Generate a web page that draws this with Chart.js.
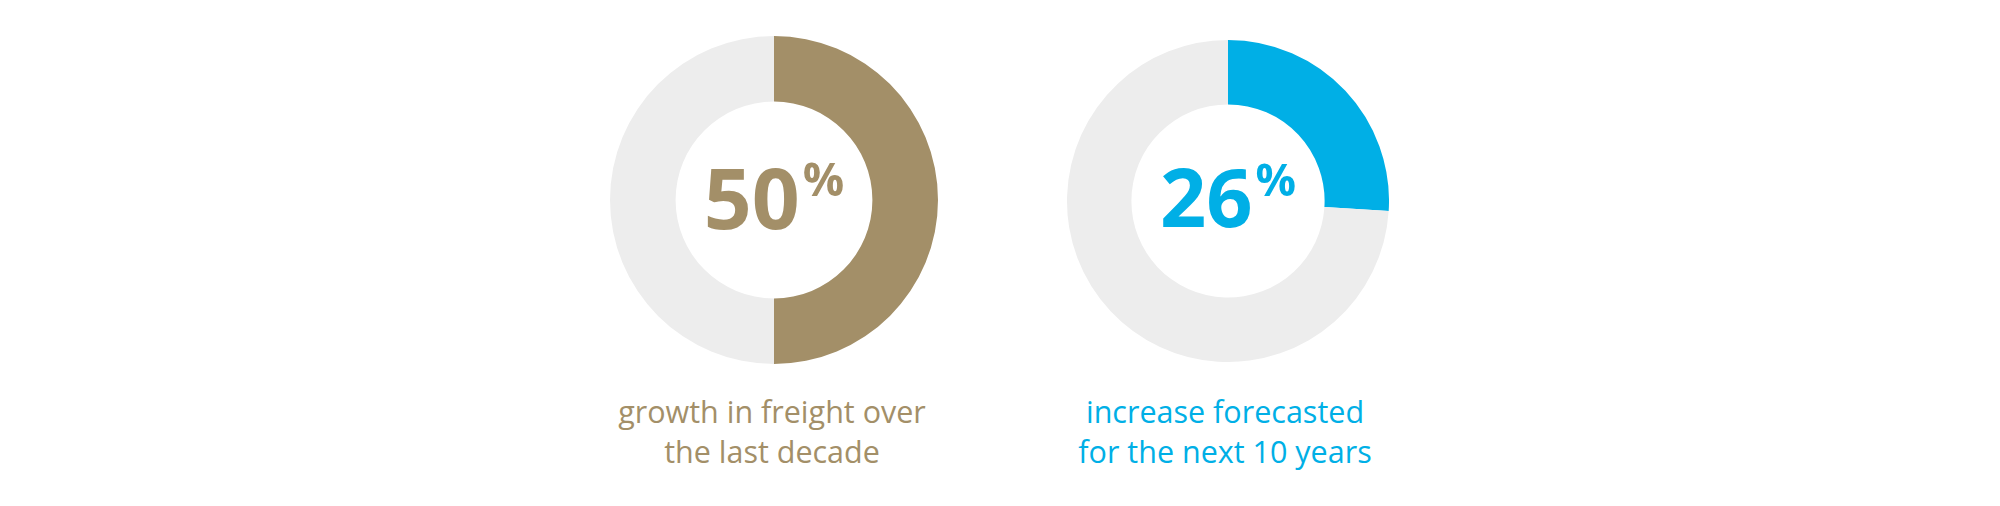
<!DOCTYPE html>
<html>
<head>
<meta charset="utf-8">
<script src="https://cdn.jsdelivr.net/npm/chart.js@4"></script>
<style>
  html, body { margin: 0; padding: 0; background: #ffffff; }
  body { width: 2000px; height: 506px; position: relative; overflow: hidden; }
  .wrap { position: absolute; }
  .num { position: absolute; text-align: center; font-family: "Open Sans", "Noto Sans", sans-serif; font-weight: 700; white-space: nowrap; }
  .num .pct { position: relative; font-weight: 700; margin-left: 3px; }
  .cap { position: absolute; text-align: center; font-family: "Open Sans", "Noto Sans", sans-serif; font-weight: 400; white-space: nowrap; }
</style>
</head>
<body>
<script>
// ---- data ----
const categories = ['growth in freight over the last decade', 'increase forecasted for the next 10 years'];
const captionLines = [
  ['growth in freight over', 'the last decade'],
  ['increase forecasted', 'for the next 10 years']
];
const shareValues = [50, 26];
const remainderValues = [50, 74];
const valueSuffix = '%';

// ---- styling / layout ----
const accentColors = ['#A38F68', '#00AFE6'];
const trackColor = '#EDEDED';
const layout = [
  { cx: 774, cy: 200, r: 164, numSize: 84, numBaseline: 230, pctSize: 46, pctRaise: 33, capX: 772 },
  { cx: 1228, cy: 201, r: 161, numSize: 81, numBaseline: 227, pctSize: 45, pctRaise: 31, capX: 1225 }
];
const capSize = 30.5, capLine = 40, capBaseline = 423;

shareValues.forEach((v, i) => {
  const L = layout[i];
  const size = L.r * 2;
  const wrap = document.createElement('div');
  wrap.className = 'wrap';
  wrap.style.left = (L.cx - L.r) + 'px';
  wrap.style.top = (L.cy - L.r) + 'px';
  wrap.style.width = size + 'px';
  wrap.style.height = size + 'px';
  const cv = document.createElement('canvas');
  cv.width = size; cv.height = size;
  cv.style.width = size + 'px'; cv.style.height = size + 'px';
  wrap.appendChild(cv);
  document.body.appendChild(wrap);

  new Chart(cv, {
    type: 'doughnut',
    data: {
      labels: [categories[i], 'remainder'],
      datasets: [{
        data: [shareValues[i], remainderValues[i]],
        backgroundColor: [accentColors[i], trackColor],
        borderWidth: 0,
        hoverOffset: 0,
        offset: 0
      }]
    },
    options: {
      responsive: false,
      maintainAspectRatio: false,
      animation: false,
      events: [],
      cutout: '60%',
      rotation: 0,
      layout: { padding: 0 },
      plugins: { legend: { display: false }, tooltip: { enabled: false } }
    }
  });

  // center number
  const num = document.createElement('div');
  num.className = 'num';
  num.style.color = accentColors[i];
  num.style.fontSize = L.numSize + 'px';
  num.style.lineHeight = L.numSize + 'px';
  num.style.left = (L.cx - 200) + 'px';
  num.style.width = '400px';
  num.style.top = (L.numBaseline - 0.888 * L.numSize) + 'px';
  const main = document.createElement('span');
  main.textContent = String(shareValues[i]);
  const pct = document.createElement('span');
  pct.className = 'pct';
  pct.textContent = valueSuffix;
  pct.style.fontSize = L.pctSize + 'px';
  pct.style.top = (-L.pctRaise) + 'px';
  num.appendChild(main);
  num.appendChild(pct);
  document.body.appendChild(num);

  // caption
  const cap = document.createElement('div');
  cap.className = 'cap';
  cap.style.color = accentColors[i];
  cap.style.fontSize = capSize + 'px';
  cap.style.lineHeight = capLine + 'px';
  cap.style.left = (L.capX - 250) + 'px';
  cap.style.width = '500px';
  const half = (capLine - 1.362 * capSize) / 2;
  cap.style.top = (capBaseline - (half + 1.069 * capSize)) + 'px';
  captionLines[i].forEach((t, k) => {
    const d = document.createElement('div');
    d.textContent = t;
    cap.appendChild(d);
  });
  document.body.appendChild(cap);
});
</script>
</body>
</html>
